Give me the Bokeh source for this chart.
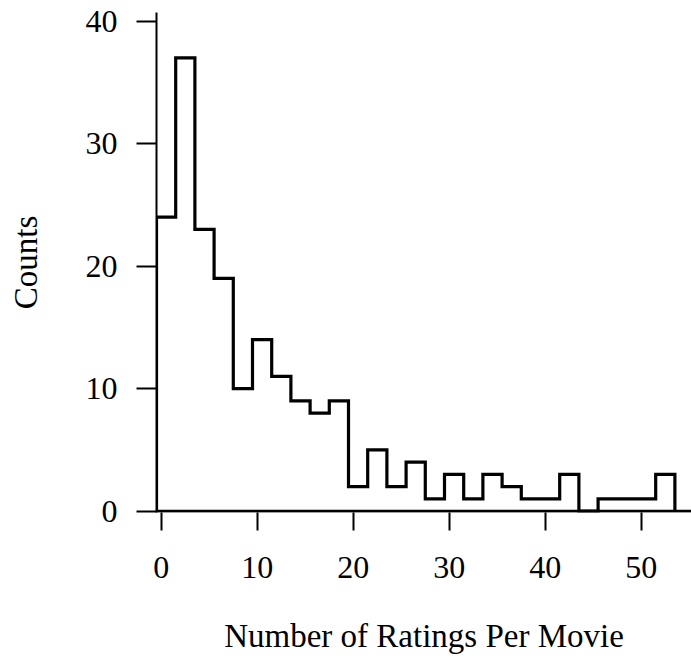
from bokeh.embed import file_html
from bokeh.models import ColumnDataSource, FixedTicker, Range1d, Span
from bokeh.plotting import figure
from bokeh.resources import INLINE

# Histogram of ratings per movie: bins of width 2 starting at -0.5
bin_start = -0.5
bin_width = 2
counts = [24, 37, 23, 19, 10, 14, 11, 9, 8, 9, 2, 5, 2, 4, 1, 3, 1, 3, 2, 1,
          1, 3, 0, 1, 1, 1, 3]
x_ticks = [0, 10, 20, 30, 40, 50]
y_ticks = [0, 10, 20, 30, 40]
x_title = "Number of Ratings Per Movie"
y_title = "Counts"

FONT = "Liberation Serif"
TICK_FS = "32px"
TITLE_FS = "33px"

edges = [bin_start + i * bin_width for i in range(len(counts) + 1)]

# Outline of the histogram as a closed staircase starting and ending at zero
sx, sy = [edges[0]], [0]
for i, c in enumerate(counts):
    sx += [edges[i], edges[i + 1]]
    sy += [c, c]
sx.append(edges[-1])
sy.append(0)
src = ColumnDataSource(dict(x=sx, y=sy))

p = figure(
    width=691, height=666,
    output_backend="svg", toolbar_location=None,
    x_range=Range1d(-0.5, 55.23), y_range=Range1d(-0.106, 40.71),
    min_border_left=156, min_border_right=0,
    min_border_top=12, min_border_bottom=154,
)
p.outline_line_color = None
p.xgrid.visible = False
p.ygrid.visible = False
p.background_fill_color = "white"
p.border_fill_color = "white"

# baseline at zero running under the whole histogram
p.add_layout(Span(location=0, dimension="width", line_color="black", line_width=3))

p.line("x", "y", source=src, line_color="black", line_width=3.2, line_join="miter")

xa = p.xaxis[0]
xa.ticker = FixedTicker(ticks=x_ticks)
xa.axis_line_color = None
xa.major_tick_line_color = "black"
xa.major_tick_line_width = 2
xa.major_tick_in = 0
xa.major_tick_out = 18
xa.minor_tick_line_color = None
xa.major_label_standoff = 26
xa.major_label_text_font = FONT
xa.major_label_text_font_size = TICK_FS
xa.major_label_text_color = "black"
xa.axis_label = x_title
xa.axis_label_standoff = 37
xa.axis_label_text_font = FONT
xa.axis_label_text_font_size = TITLE_FS
xa.axis_label_text_font_style = "normal"
xa.axis_label_text_color = "black"

ya = p.yaxis[0]
ya.ticker = FixedTicker(ticks=y_ticks)
ya.axis_line_color = "black"
ya.axis_line_width = 2
ya.major_tick_line_color = "black"
ya.major_tick_line_width = 2
ya.major_tick_in = 0
ya.major_tick_out = 20
ya.minor_tick_line_color = None
ya.major_label_standoff = 19
ya.major_label_orientation = "horizontal"
ya.major_label_text_font = FONT
ya.major_label_text_font_size = TICK_FS
ya.major_label_text_color = "black"
ya.axis_label = y_title
ya.axis_label_standoff = 39
ya.axis_label_text_font = FONT
ya.axis_label_text_font_size = TITLE_FS
ya.axis_label_text_font_style = "normal"
ya.axis_label_text_color = "black"

open("out.html", "w").write(file_html(p, INLINE))
